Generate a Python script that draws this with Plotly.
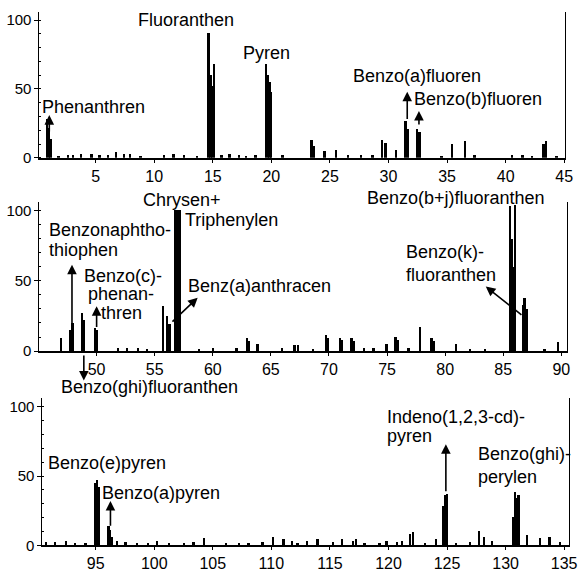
import plotly.graph_objects as go

# ---------------- data (retention time, relative intensity) ----------------
rt1 = [0.9, 1.05, 1.2, 1.9, 2.7, 3.1, 3.8, 4.7, 5.4, 6.1, 6.8, 7.5, 8.0, 8.9, 10.9, 11.7,
       12.6, 13.7, 14.7, 14.85, 15.0, 15.15, 15.8, 16.5, 17.3, 17.9, 18.7, 19.6, 19.75, 19.9,
       20.05, 21.0, 23.5, 23.7, 24.6, 25.6, 26.6, 27.7, 28.7, 29.5, 29.8, 30.7, 31.5, 31.7,
       32.5, 32.7, 34.6, 35.5, 36.6, 37.4, 40.6, 41.5, 42.3, 43.3, 43.5, 44.4]
h1 = [28, 22, 14, 1, 2, 2, 3, 3, 2, 2, 4, 3, 3, 1, 2, 3,
      2, 1, 91, 60, 52, 68, 2, 3, 2, 1, 2, 68, 60, 55,
      48, 2, 13, 9, 5, 6, 2, 2, 2, 13, 11, 6, 27, 21,
      21, 19, 1, 10, 12, 2, 2, 2, 1, 10, 12, 1]

rt2 = [47.0, 47.8, 48.0, 48.8, 49.0, 49.9, 50.1, 51.9, 52.7, 53.6, 54.4, 55.8, 56.1, 56.35,
       56.8, 57.0, 57.2, 58.9, 60.1, 62.1, 63.0, 63.2, 63.9, 66.0, 67.1, 67.4, 68.7, 69.8,
       70.0, 71.0, 71.2, 72.0, 72.2, 73.1, 73.9, 75.0, 75.8, 76.0, 76.9, 77.9, 78.9, 79.1,
       81.0, 82.2, 83.5, 85.65, 85.8, 85.95, 86.1, 86.75, 86.9, 87.05, 88.6, 89.8]
h2 = [9, 15, 20, 27, 22, 16, 15, 2, 2, 2, 1, 32, 25, 19,
      100, 100, 100, 1, 2, 2, 9, 7, 5, 2, 4, 4, 1, 11,
      9, 9, 8, 9, 7, 2, 2, 5, 10, 8, 2, 17, 9, 7,
      5, 1, 1, 103, 80, 60, 104, 33, 38, 30, 1, 6]

rt3 = [90.8, 91.6, 92.5, 93.3, 94.2, 95.0, 95.15, 95.3, 96.15, 96.3, 96.45, 96.9, 97.6, 98.6,
       99.5, 100.3, 101.3, 102.6, 103.4, 104.3, 106.2, 107.3, 108.1, 109.3, 110.2, 111.1, 111.8,
       112.3, 113.1, 114.0, 115.3, 116.1, 117.0, 117.3, 118.0, 119.3, 119.9, 120.8, 121.2, 121.9,
       122.15, 123.2, 124.1, 124.75, 124.9, 125.05, 125.8, 127.0, 127.8, 128.2, 128.9, 130.7,
       130.85, 131.0, 131.15, 131.9, 133.0, 133.8, 134.7]
h3 = [2, 2, 3, 1, 1, 45, 47, 42, 14, 11, 6, 3, 2, 1,
      1, 3, 1, 1, 2, 5, 1, 1, 1, 2, 6, 4, 3,
      1, 3, 4, 2, 4, 3, 4, 1, 1, 3, 2, 3, 8,
      9, 1, 4, 28, 36, 37, 1, 2, 10, 6, 3, 20,
      38, 34, 36, 7, 5, 6, 2]

ticks1 = [5, 10, 15, 20, 25, 30, 35, 40, 45]
ticks2 = [50, 55, 60, 65, 70, 75, 80, 85, 90]
ticks3 = [95, 100, 105, 110, 115, 120, 125, 130, 135]
yticks = [0, 50, 100]
YMAX = 106

# labels: (panel, text, x, y, xanchor)
labels = [
    (1, "Fluoranthen", 12.75, 100, "center"),
    (1, "Pyren", 19.57, 76.4, "center"),
    (1, "Phenanthren", 4.83, 37.1, "center"),
    (1, "Benzo(a)fluoren", 32.45, 59.3, "center"),
    (1, "Benzo(b)fluoren", 37.67, 42.9, "center"),
    (2, "Chrysen+", 57.39, 107.7, "center"),
    (2, "Triphenylen", 61.63, 93, "center"),
    (2, "Benzonaphtho-", 45.76, 86, "left"),
    (2, "thiophen", 45.76, 72, "left"),
    (2, "Benzo(c)-", 48.73, 53.1, "left"),
    (2, "phenan-", 49.07, 40.6, "left"),
    (2, "thren", 50.17, 27.3, "left"),
    (2, "Benz(a)anthracen", 64.0, 46.2, "center"),
    (2, "Benzo(b+j)fluoranthen", 80.9, 109.1, "center"),
    (2, "Benzo(k)-", 76.49, 70.6, "left"),
    (2, "fluoranthen", 76.49, 54.5, "left"),
    (2, "Benzo(ghi)fluoranthen", 54.58, -25.9, "center"),
    (3, "Benzo(e)pyren", 96.0, 59.6, "center"),
    (3, "Benzo(a)pyren", 100.56, 37.6, "center"),
    (3, "Indeno(1,2,3-cd)-", 119.67, 92.9, "left"),
    (3, "pyren", 119.67, 78.7, "left"),
    (3, "Benzo(ghi)-", 127.5, 66, "left"),
    (3, "perylen", 127.5, 49.6, "left"),
]

# arrows: (panel, tail x, tail y, head x, head y)
arrows = [
    (1, 1.04, 18, 1.04, 31),
    (1, 31.6, 27, 31.6, 48),
    (1, 32.6, 23, 32.6, 34),
    (2, 47.88, 18, 47.88, 61.5),
    (2, 50.0, 16, 50.0, 32),
    (2, 48.9, -2, 48.9, -21),
    (2, 56.4, 20, 58.7, 38),
    (2, 86.7, 25, 83.5, 46),
    (3, 96.26, 13, 96.26, 32),
    (3, 124.9, 38, 124.9, 73),
]

# ---------------- figure ----------------
W, H = 582, 579
FONT = "Liberation Sans, Arial, sans-serif"
fig = go.Figure()

panels = [
    (rt1, h1, ticks1, (0.2, 45.08), (40, 573), (160, 12)),
    (rt2, h2, ticks2, (45.08, 90.5), (40, 575), (356, 205)),
    (rt3, h3, ticks3, (90.45, 135.42), (43, 577), (553, 404)),
]

for i, (rt, hh, tk, xr, (pxl, pxr), (pyb, pyt)) in enumerate(panels, start=1):
    sfx = "" if i == 1 else str(i)
    fig.add_trace(go.Bar(x=rt, y=hh, width=0.16, marker=dict(color="black", line=dict(width=0)),
                         xaxis="x" + sfx, yaxis="y" + sfx, showlegend=False))
    fig.layout["xaxis" + sfx] = dict(
        domain=[pxl / W, pxr / W], range=list(xr), anchor="y" + sfx,
        tickvals=tk, ticks="outside", ticklen=3, tickwidth=1, tickcolor="black",
        showline=True, linecolor="black", linewidth=1.5, showgrid=False, zeroline=False,
        tickfont=dict(family=FONT, size=16, color="black"),
    )
    fig.layout["yaxis" + sfx] = dict(
        domain=[(H - pyb) / H, (H - pyt) / H], range=[0, YMAX], anchor="x" + sfx,
        tickvals=yticks, ticks="outside", ticklen=4, tickwidth=1, tickcolor="black",
        showline=True, linecolor="black", linewidth=1, mirror=True,
        showgrid=False, zeroline=False,
        minor=dict(dtick=10, ticks="inside", ticklen=2, tickcolor="black", showgrid=False),
        tickfont=dict(family=FONT, size=15, color="black"),
    )

def yref_for(sfx, *vals):
    """Use domain reference (never auto-hidden) when any value lies outside the y range."""
    if any(v < 0 or v > YMAX for v in vals):
        return "y" + sfx + " domain", [v / YMAX for v in vals]
    return "y" + sfx, list(vals)

for p, txt, x, y, xa in labels:
    sfx = "" if p == 1 else str(p)
    yr, (yy,) = yref_for(sfx, y)
    fig.add_annotation(x=x, y=yy, xref="x" + sfx, yref=yr, text=txt, showarrow=False,
                       xanchor=xa, yanchor="middle",
                       font=dict(family=FONT, size=18, color="black"))

for p, tx, ty, hx, hy in arrows:
    sfx = "" if p == 1 else str(p)
    yr, (hyy, tyy) = yref_for(sfx, hy, ty)
    fig.add_annotation(x=hx, y=hyy, ax=tx, ay=tyy, xref="x" + sfx, yref=yr,
                       axref="x" + sfx, ayref=yr, text="", showarrow=True,
                       arrowhead=2, arrowsize=1.2, arrowwidth=1.6, arrowcolor="black",
                       standoff=0, startstandoff=0)

fig.update_layout(width=W, height=H, margin=dict(l=0, r=0, t=0, b=0),
                  paper_bgcolor="white", plot_bgcolor="white", bargap=0,
                  font=dict(family=FONT, color="black"))

fig.write_html("out.html")
